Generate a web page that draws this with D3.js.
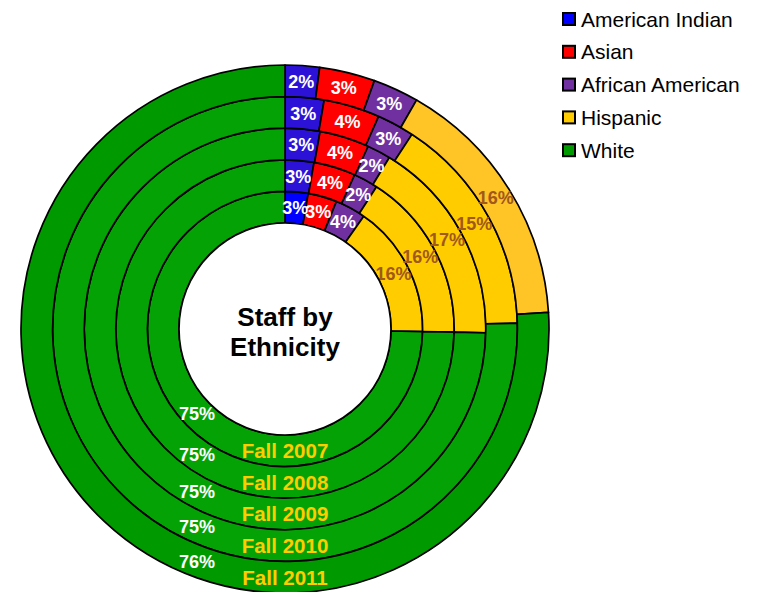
<!DOCTYPE html>
<html>
<head>
<meta charset="utf-8">
<script src="https://cdn.jsdelivr.net/npm/d3@7"></script>
<style>
  html, body { margin: 0; padding: 0; background: #fff; }
  svg { display: block; }
  text { font-family: "Liberation Sans", Arial, sans-serif; }
</style>
</head>
<body>
<svg id="chart" width="757" height="592"></svg>
<script>
// ---- data ----
const categories = ["American Indian", "Asian", "African American", "Hispanic", "White"];
const years = ["Fall 2007", "Fall 2008", "Fall 2009", "Fall 2010", "Fall 2011"];
const fall2007 = [2.7, 3.4, 3.6, 15.6, 74.7];
const fall2008 = [2.75, 4.0, 2.35, 16.2, 74.7];
const fall2009 = [2.8, 4.0, 1.9, 16.6, 74.7];
const fall2010 = [2.7, 3.9, 2.6, 15.4, 75.4];
const fall2011 = [2.1, 3.4, 2.8, 15.7, 76.0];
const series = [fall2007, fall2008, fall2009, fall2010, fall2011];
const title = ["Staff by", "Ethnicity"];

// ---- styles ----
const colors = ["#2B12D6", "#FF0000", "#7030A0", "#FFCC00", "#05A205"];
const innerColors = { 0: "#0000FF" };
const outerColors = { 3: "#FFC425", 4: "#009A00" };
const legendColors = ["#0000FF", "#FF0000", "#7030A0", "#FFCC00", "#009900"];
const labelColors = ["#FFFFFF", "#FFFFFF", "#FFFFFF", "#A0581C", "#FFFFFF"];

const svg = d3.select("#chart");
const cx = 285, cy = 329;
const radius = d3.scaleLinear().domain([0, years.length]).range([106, 264]);

const g = svg.append("g").attr("transform", `translate(${cx},${cy})`);
const pie = d3.pie().sort(null).value(d => d);

series.forEach((vals, ri) => {
  const r0 = radius(ri), r1 = radius(ri + 1);
  const arc = d3.arc().innerRadius(r0).outerRadius(r1);
  const arcs = pie(vals);
  g.append("g").selectAll("path").data(arcs).join("path")
    .attr("d", arc)
    .attr("fill", (d, i) => {
      if (ri === 0 && innerColors[i]) return innerColors[i];
      if (ri === series.length - 1 && outerColors[i]) return outerColors[i];
      return colors[i];
    })
    .attr("stroke", "#000")
    .attr("stroke-width", 1.7)
    .attr("stroke-linejoin", "round");
});

// labels (drawn after all rings)
series.forEach((vals, ri) => {
  const r0 = radius(ri), r1 = radius(ri + 1);
  const rm = (r0 + r1) / 2;
  const arc = d3.arc().innerRadius(rm).outerRadius(rm);
  const arcs = pie(vals);
  const last = vals.length - 1;
  g.append("g").selectAll("text").data(arcs).join("text")
    .attr("transform", (d, i) => {
      let p;
      if (i === last) {
        const dx = -88;
        p = [dx, Math.sqrt(rm * rm - dx * dx)];
      } else {
        p = arc.centroid(d);
      }
      return `translate(${p[0]},${p[1]})`;
    })
    .attr("text-anchor", "middle")
    .attr("dy", "0.36em")
    .attr("font-weight", "bold")
    .attr("font-size", 18)
    .attr("fill", (d, i) => labelColors[i])
    .text(d => Math.round(d.value) + "%");

  g.append("text")
    .attr("x", 0)
    .attr("y", rm)
    .attr("dy", "0.36em")
    .attr("text-anchor", "middle")
    .attr("font-weight", "bold")
    .attr("font-size", 20.5)
    .attr("fill", "#FFCC00")
    .text(years[ri]);
});

// center white hole
g.append("circle").attr("r", radius(0)).attr("fill", "#fff").attr("stroke", "#000").attr("stroke-width", 1.7);

g.append("text")
  .attr("text-anchor", "middle")
  .attr("font-weight", "bold")
  .attr("font-size", 26)
  .attr("fill", "#000")
  .selectAll("tspan").data(title).join("tspan")
  .attr("x", 0)
  .attr("y", (d, i) => -3 + i * 30)
  .text(d => d);

// legend
const legend = svg.append("g").attr("transform", "translate(563,13)");
const items = legend.selectAll("g").data(categories).join("g")
  .attr("transform", (d, i) => `translate(0,${i * 32.8})`);
items.append("rect")
  .attr("width", 12).attr("height", 12)
  .attr("fill", (d, i) => legendColors[i])
  .attr("stroke", "#000").attr("stroke-width", 2);
items.append("text")
  .attr("x", 18).attr("y", 13.5)
  .attr("font-size", 21)
  .attr("fill", "#000")
  .text(d => d);
</script>
</body>
</html>
